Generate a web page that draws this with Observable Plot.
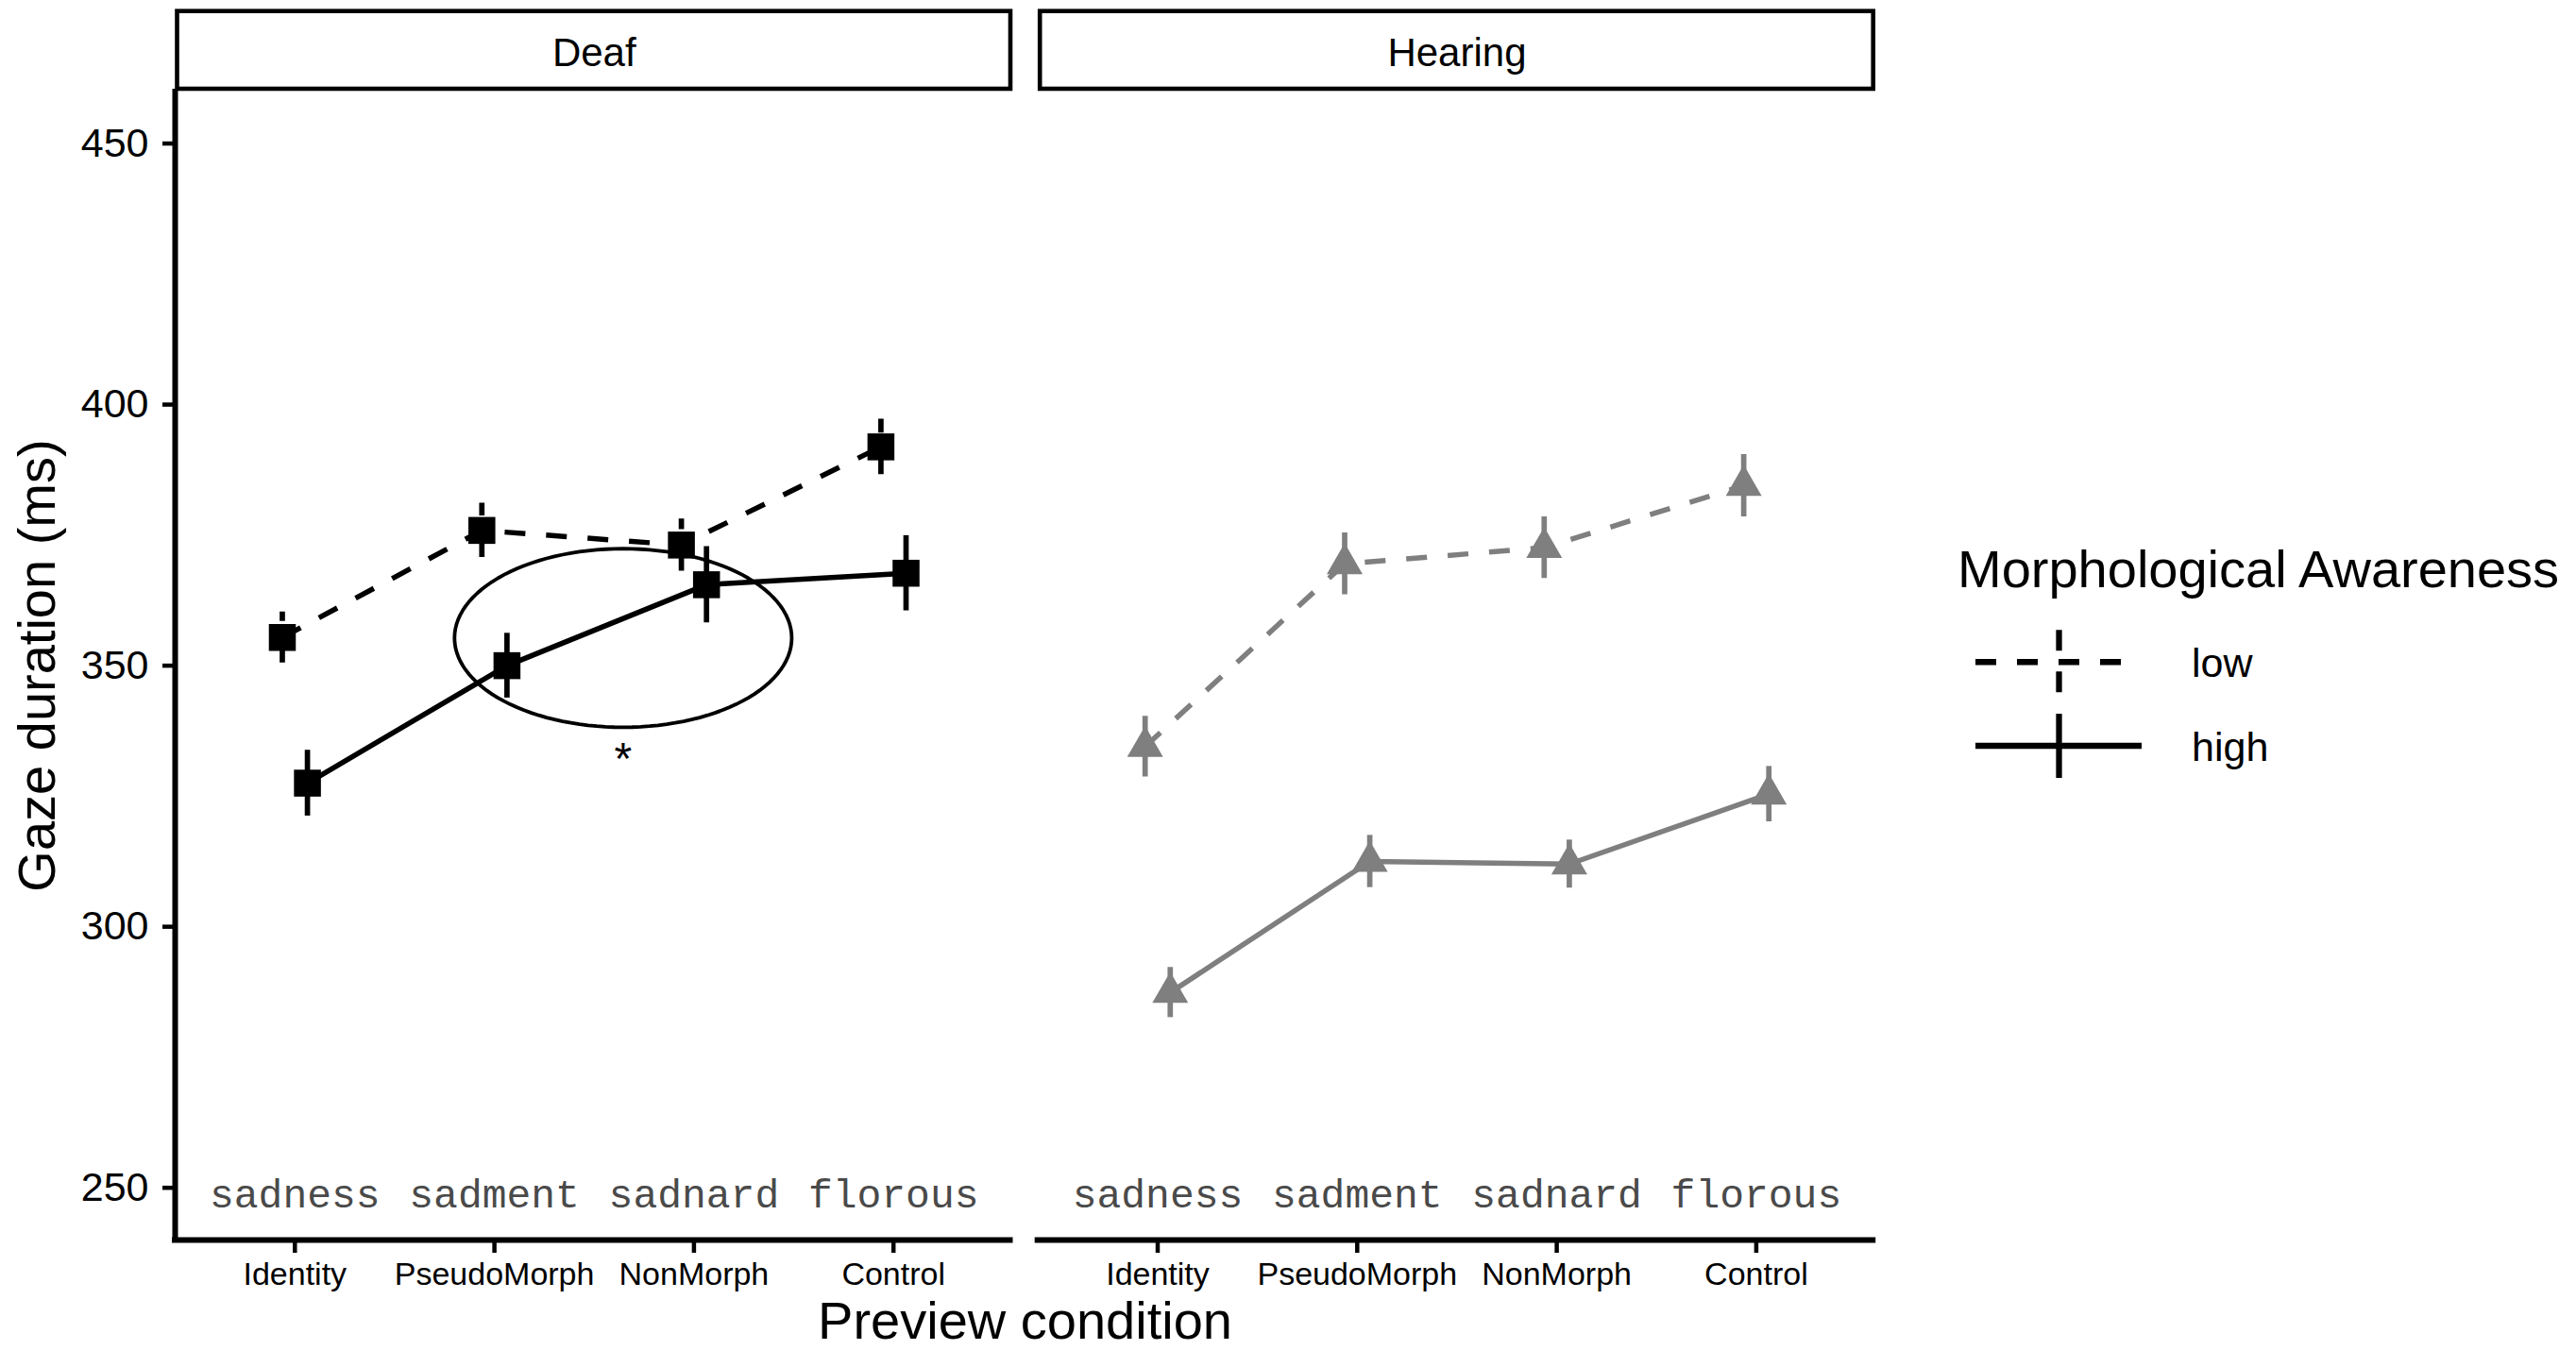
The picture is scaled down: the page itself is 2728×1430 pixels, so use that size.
<!DOCTYPE html>
<html>
<head>
<meta charset="utf-8">
<script src="https://cdn.jsdelivr.net/npm/d3@7"></script>
<script src="https://cdn.jsdelivr.net/npm/@observablehq/plot@0.6"></script>
<style>
  html, body { margin: 0; padding: 0; background: #ffffff; }
  #chart { position: relative; width: 2728px; height: 1430px; }
</style>
</head>
<body>
<div id="chart"></div>
<script>
// ---------------- data ----------------
const groups = ["Deaf", "Hearing"];
const conditions = ["Identity", "PseudoMorph", "NonMorph", "Control"];
const previewWords = ["sadness", "sadment", "sadnard", "florous"];
const awareness = ["low", "high"];

const deafLow = [355.4, 375.9, 373.1, 391.9];
const deafLowErr = [4.9, 5.2, 5.0, 5.3];
const deafHigh = [327.5, 350.0, 365.5, 367.7];
const deafHighErr = [6.3, 6.2, 7.3, 7.2];
const hearingLow = [334.5, 369.5, 372.6, 384.5];
const hearingLowErr = [5.8, 5.9, 5.9, 6.0];
const hearingHigh = [287.4, 312.5, 312.0, 325.4];
const hearingHighErr = [4.8, 5.0, 4.6, 5.3];

const yTicks = [250, 300, 350, 400, 450];
const yDomain = [240, 460.4];
const xDomain = [0.4, 4.6];
const wordY = 246.3;
const sig = {group: "Deaf", x: 2.645, y: 355.3, rx: 0.845, ry: 17.1, label: "*", labelY: 332};

// ---------------- tables ----------------
const series = {
  Deaf: {low: [deafLow, deafLowErr], high: [deafHigh, deafHighErr]},
  Hearing: {low: [hearingLow, hearingLowErr], high: [hearingHigh, hearingHighErr]}
};
const rows = [];
for (const g of groups) for (const a of awareness) {
  const [m, e] = series[g][a];
  conditions.forEach((c, i) => rows.push({group: g, awareness: a, condition: c, xi: i + 1, mean: m[i], err: e[i]}));
}
const wordRows = groups.flatMap(g => previewWords.map((w, i) => ({group: g, xi: i + 1, word: w})));
const ellipsePts = d3.range(0, 361, 3).map(t => ({
  group: sig.group,
  x: sig.x + sig.rx * Math.cos(t * Math.PI / 180),
  y: sig.y + sig.ry * Math.sin(t * Math.PI / 180)
}));

// ---------------- styles ----------------
const SANS = "'Liberation Sans', Arial, Helvetica, sans-serif";
const MONO = "'Liberation Mono', 'Courier New', monospace";
const dodge = {low: -13.3, high: 13.3};
const dash = {low: "22,22", high: "none"};
const markerR = {Deaf: 16.1, Hearing: 14.1};

const seriesMarks = awareness.flatMap(a => {
  const data = rows.filter(d => d.awareness === a);
  return [
    Plot.line(data, {fx: "group", x: "xi", y: "mean", z: "group", stroke: "group",
      strokeWidth: 5.5, strokeDasharray: dash[a], strokeLinecap: "butt", dx: dodge[a]}),
    Plot.ruleX(data, {fx: "group", x: "xi", y1: d => d.mean - d.err, y2: d => d.mean + d.err,
      stroke: "group", strokeWidth: 5.7, strokeDasharray: dash[a], strokeLinecap: "butt", dx: dodge[a]}),
    ...groups.map(g => Plot.dot(data.filter(d => d.group === g), {fx: "group", x: "xi", y: "mean",
      symbol: "group", fill: "group", r: markerR[g], dx: dodge[a]}))
  ];
});

function stripBox(index, scales, values, dims) {
  const g = document.createElementNS("http://www.w3.org/2000/svg", "g");
  const r = document.createElementNS("http://www.w3.org/2000/svg", "rect");
  const x0 = scales.x(xDomain[0]), x1 = scales.x(xDomain[1]);
  r.setAttribute("x", x0 + 2.5);
  r.setAttribute("width", x1 - x0 - 5);
  r.setAttribute("y", 11.7);
  r.setAttribute("height", dims.marginTop - 11.7);
  r.setAttribute("fill", "white");
  r.setAttribute("stroke", "black");
  r.setAttribute("stroke-width", 4.6);
  g.appendChild(r);
  return g;
}

const chart = Plot.plot({
  width: 2728,
  height: 1430,
  marginTop: 94,
  marginBottom: 117,
  marginLeft: 185,
  marginRight: 741.8,
  style: {fontFamily: SANS, background: "white", color: "black"},
  fx: {domain: groups, axis: null, paddingInner: 0.0287, paddingOuter: 0, round: false},
  x: {domain: xDomain},
  y: {domain: yDomain},
  color: {domain: groups, range: ["#000000", "#7f7f7f"]},
  symbol: {domain: groups, range: ["square", "triangle"]},
  marks: [
    stripBox,
    Plot.text(groups, {fx: d => d, text: d => d, frameAnchor: "top", dy: -25,
      lineAnchor: "bottom", fontSize: 42, fill: "black"}),
    Plot.ruleY([yDomain[0]], {strokeWidth: 6, insetLeft: -3, stroke: "black"}),
    Plot.ruleX([groups[0]], {fx: d => d, x: () => xDomain[0], strokeWidth: 6, insetBottom: -3, stroke: "black"}),
    Plot.axisY({ticks: yTicks, tickSize: 13, tickPadding: 15, fontSize: 43,
      strokeWidth: 4.5, label: null, color: "black"}),
    Plot.axisX({ticks: conditions.map((c, i) => i + 1), tickFormat: i => conditions[i - 1],
      tickSize: 14, tickPadding: 9, fontSize: 34, strokeWidth: 4.5, label: null, color: "black"}),
    Plot.text(wordRows, {fx: "group", x: "xi", y: () => wordY, text: "word",
      fontFamily: MONO, fontSize: 43, fill: "#4a4a4a", lineAnchor: "bottom"}),
    ...seriesMarks,
    Plot.line(ellipsePts, {fx: "group", x: "x", y: "y", stroke: "black", strokeWidth: 3.8}),
    Plot.text([sig], {fx: "group", x: "x", y: "labelY", text: "label", fontSize: 48,
      lineAnchor: "middle", fill: "black"})
  ]
});

document.getElementById("chart").appendChild(chart);

// ---------------- titles & legend ----------------
const svg = d3.select(chart);
svg.append("text")
  .attr("transform", "translate(58.3,705) rotate(-90)")
  .attr("text-anchor", "middle")
  .attr("font-family", SANS).attr("font-size", 56).attr("fill", "black")
  .text("Gaze duration (ms)");
svg.append("text")
  .attr("x", 1085.5).attr("y", 1418)
  .attr("text-anchor", "middle")
  .attr("font-family", SANS).attr("font-size", 56).attr("fill", "black")
  .text("Preview condition");

const leg = svg.append("g").attr("text-anchor", "start");
leg.append("text")
  .attr("x", 2073).attr("y", 621.7)
  .attr("text-anchor", "start")
  .attr("font-family", SANS).attr("font-size", 56).attr("fill", "black")
  .text("Morphological Awareness");
awareness.forEach((a, i) => {
  const cy = 701.3 + i * 88.7;
  const k = leg.append("g");
  k.append("line").attr("x1", 2092).attr("x2", 2268).attr("y1", cy).attr("y2", cy)
    .attr("stroke", "black").attr("stroke-width", 6.5).attr("stroke-dasharray", dash[a]);
  k.append("line").attr("x1", 2180.5).attr("x2", 2180.5).attr("y1", cy - 34).attr("y2", cy + 34)
    .attr("stroke", "black").attr("stroke-width", 6.3).attr("stroke-dasharray", dash[a]);
  k.append("text").attr("x", 2321).attr("y", cy + 15.5)
    .attr("text-anchor", "start")
    .attr("font-family", SANS).attr("font-size", 43).attr("fill", "black")
    .text(a);
});
</script>
</body>
</html>
